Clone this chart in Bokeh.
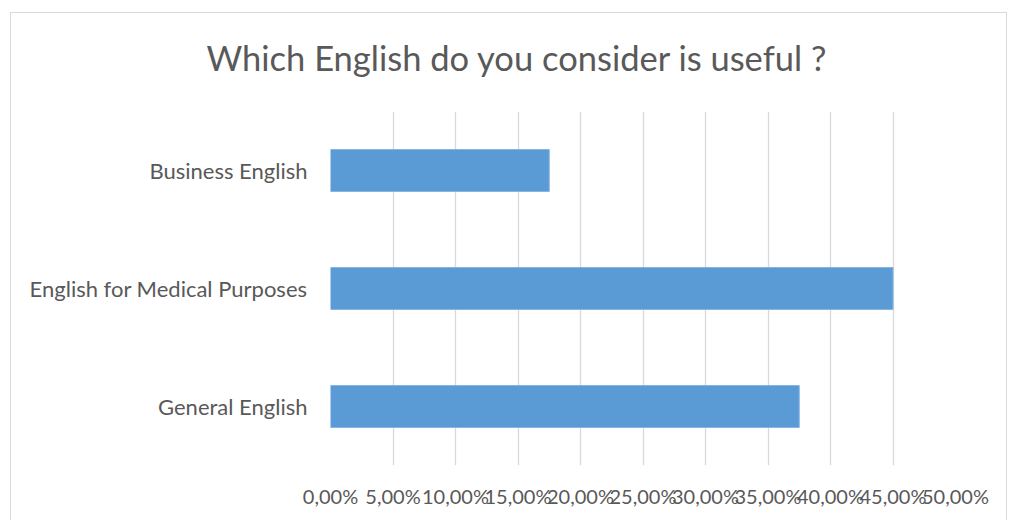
from bokeh.plotting import figure
from bokeh.models import FixedTicker, InlineStyleSheet
from bokeh.embed import file_html
from bokeh.resources import INLINE

categories = ["General English", "English for Medical Purposes", "Business English"]
values = [0.375, 0.45, 0.175]
tick_values = [0.0, 0.05, 0.10, 0.15, 0.20, 0.25, 0.30, 0.35, 0.40, 0.45, 0.50]
tick_labels = ["0,00%", "5,00%", "10,00%", "15,00%", "20,00%", "25,00%",
               "30,00%", "35,00%", "40,00%", "45,00%", "50,00%"]
title_text = "Which English do you consider is useful ?"

FONT = "Lato"
TXT = "#595959"

frame_css = InlineStyleSheet(css="""
:host::after {
  content: "";
  position: absolute;
  left: 10px;
  top: 12px;
  width: 997px;
  height: 560px;
  border: 1.5px solid #d9d9d9;
  pointer-events: none;
  box-sizing: border-box;
}
""")

p = figure(width=1010, height=520, y_range=categories, x_range=(0, 0.5),
           output_backend="svg", toolbar_location=None,
           min_border_left=330, min_border_right=55,
           min_border_top=111, min_border_bottom=55,
           stylesheets=[frame_css])

p.title.text = title_text
p.title.align = "left"
p.title.offset = -124
p.title.vertical_align = "middle"
p.title.text_font = FONT
p.title.text_font_size = "34.5px"
p.title.text_font_style = "normal"
p.title.text_color = TXT
p.title.standoff = 66

p.hbar(y=categories, right=values, left=0, height=0.356,
       fill_color="#5B9BD5", line_color="#86b5e2", line_width=1)

p.outline_line_color = None
p.background_fill_color = "white"
p.border_fill_color = "white"

p.ygrid.grid_line_color = None
p.xgrid.grid_line_color = "#d9d9d9"
p.xgrid.grid_line_width = 1.3

p.xaxis.ticker = FixedTicker(ticks=tick_values)
p.xaxis.major_label_overrides = {v: l for v, l in zip(tick_values, tick_labels)}
p.xaxis.axis_line_color = None
p.xaxis.major_tick_line_color = None
p.xaxis.minor_tick_line_color = None
p.xaxis.major_label_text_font = FONT
p.xaxis.major_label_text_font_size = "20px"
p.xaxis.major_label_text_color = TXT
p.xaxis.major_label_standoff = 12

p.yaxis.axis_line_color = None
p.yaxis.major_tick_line_color = None
p.yaxis.minor_tick_line_color = None
p.yaxis.major_label_text_font = FONT
p.yaxis.major_label_text_font_size = "22px"
p.yaxis.major_label_text_color = TXT
p.yaxis.major_label_standoff = 17

open("out.html", "w").write(file_html(p, INLINE))
